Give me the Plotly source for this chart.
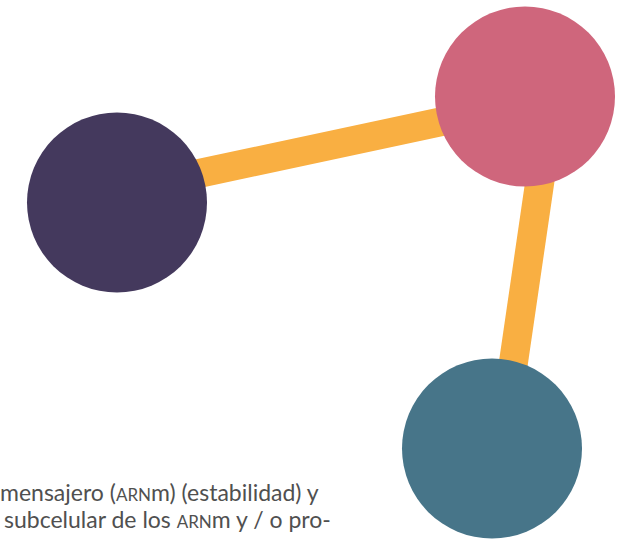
import plotly.graph_objects as go

# nodes (pixel space: x to the right, y downward)
node_x = [117, 525, 492]
node_y = [202.5, 96.5, 448.5]
node_colors = ["#44395D", "#CF667C", "#477589"]

# edges drawn behind the nodes
edge_x = [[117, 552], [552, 501]]
edge_y = [[191, 98], [98, 448]]
edge_color = "#F9AF42"

text_lines = [
    "mensajero (<span style='font-size:17px'>ARN</span>m) (estabilidad) y",
    "subcelular de los <span style='font-size:17px'>ARN</span>m y / o pro-",
]
text_x = [-2, 2]
text_y = [492, 519]

fig = go.Figure()
for ex, ey in zip(edge_x, edge_y):
    fig.add_trace(go.Scatter(x=ex, y=ey, mode="lines",
                             line=dict(color=edge_color, width=29),
                             hoverinfo="skip", cliponaxis=False))

fig.add_trace(go.Scatter(x=node_x, y=node_y, mode="markers",
                         marker=dict(size=180, color=node_colors, line=dict(width=0)),
                         hoverinfo="skip", cliponaxis=False))

for t, tx, ty in zip(text_lines, text_x, text_y):
    fig.add_annotation(x=0, xshift=tx, y=ty, xref="paper", yref="y", text=t,
                       showarrow=False, xanchor="left", yanchor="middle",
                       font=dict(family="Lato", size=23, color="#505050"))

fig.update_layout(
    width=628, height=541,
    margin=dict(l=0, r=0, t=0, b=0),
    paper_bgcolor="white", plot_bgcolor="white",
    showlegend=False,
    xaxis=dict(range=[0, 628], visible=False, fixedrange=True),
    yaxis=dict(range=[541, 0], visible=False, fixedrange=True),
)

fig.write_html("out.html", config={"displayModeBar": False},
               post_script="document.body.style.margin='0';")
